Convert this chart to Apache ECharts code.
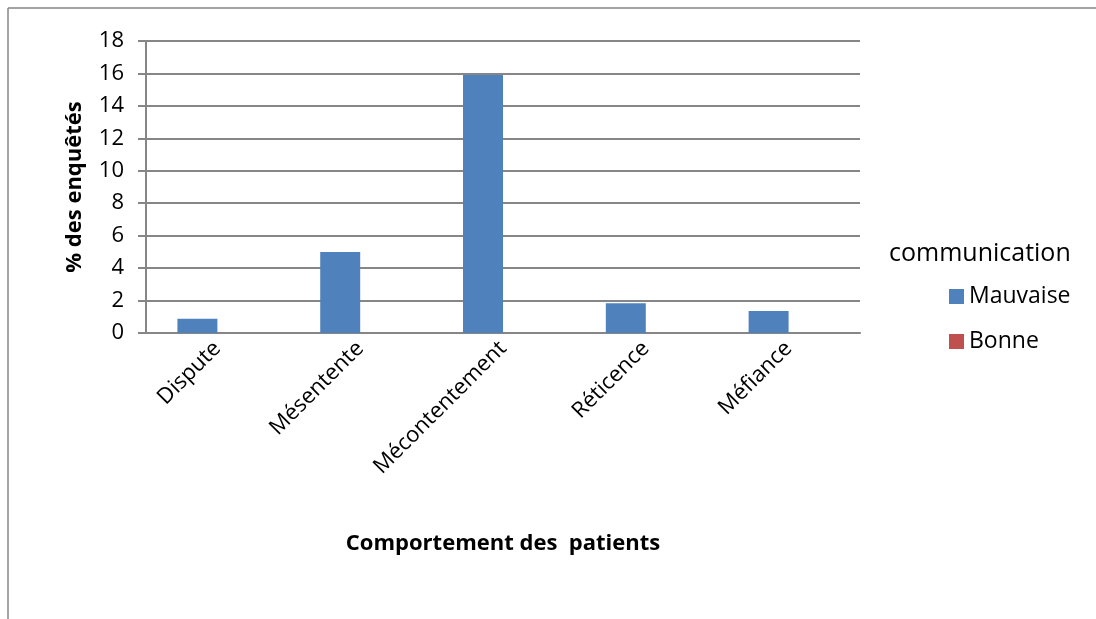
<!DOCTYPE html>
<html>
<head>
<meta charset="utf-8">
<script src="https://cdn.jsdelivr.net/npm/echarts@6/dist/echarts.min.js"></script>
<style>
  html, body { margin: 0; padding: 0; background: #fff; }
  #chart { width: 1096px; height: 619px; }
</style>
</head>
<body>
<div id="chart"></div>
<script>
const categories = ['Dispute', 'Mésentente', 'Mécontentement', 'Réticence', 'Méfiance']
const mauvaise = [0.88, 5.0, 15.9, 1.83, 1.35]
const bonne = [0, 0, 0, 0, 0]
const yTicks = { min: 0, max: 18, interval: 2 }

const font = 'Open Sans'
const grey = '#868686'

const chart = echarts.init(document.getElementById('chart'))
chart.setOption({
  backgroundColor: '#ffffff',
  animation: false,
  textStyle: { fontFamily: font },
  title: {
    text: 'communication',
    left: 884,
    top: 236,
    textStyle: { fontFamily: font, fontSize: 25, fontWeight: 'normal', color: '#000' }
  },
  legend: {
    orient: 'vertical',
    left: 944,
    top: 280,
    icon: 'rect',
    itemWidth: 15,
    itemHeight: 15,
    itemGap: 22,
    textStyle: { fontFamily: font, fontSize: 23, color: '#000' },
    data: ['Mauvaise', 'Bonne']
  },
  graphic: [
    { type: 'line', shape: { x1: 8, y1: 8, x2: 1096, y2: 8 }, style: { stroke: grey, lineWidth: 1.5 } },
    { type: 'line', shape: { x1: 8, y1: 8, x2: 8, y2: 619 }, style: { stroke: grey, lineWidth: 1.5 } }
  ],
  grid: {
    left: 146,
    right: 236,
    top: 41,
    bottom: 286
  },
  xAxis: {
    type: 'category',
    data: categories,
    name: 'Comportement des  patients',
    nameLocation: 'middle',
    nameGap: 200,
    nameTextStyle: { fontFamily: font, fontSize: 22, fontWeight: 'bold', color: '#000' },
    axisLine: { lineStyle: { color: grey, width: 2 } },
    axisTick: { show: false },
    axisLabel: { rotate: 45, fontSize: 22, color: '#000', margin: 12, interval: 0 }
  },
  yAxis: {
    type: 'value',
    min: yTicks.min,
    max: yTicks.max,
    interval: yTicks.interval,
    name: '% des enquêtés',
    nameLocation: 'middle',
    nameGap: 60,
    nameTextStyle: { fontFamily: font, fontSize: 22, fontWeight: 'bold', color: '#000' },
    axisLine: { show: true, lineStyle: { color: grey, width: 2 } },
    axisTick: { show: true, length: 8, lineStyle: { color: grey, width: 2 } },
    axisLabel: { fontSize: 22, color: '#000', margin: 22 },
    splitLine: { lineStyle: { color: grey, width: 2 } }
  },
  series: [
    {
      name: 'Mauvaise',
      type: 'bar',
      data: mauvaise,
      barGap: '0%',
      barCategoryGap: '44%',
      itemStyle: { color: '#4F81BD' }
    },
    {
      name: 'Bonne',
      type: 'bar',
      data: bonne,
      itemStyle: { color: '#C0504D' }
    }
  ]
})
</script>
</body>
</html>
